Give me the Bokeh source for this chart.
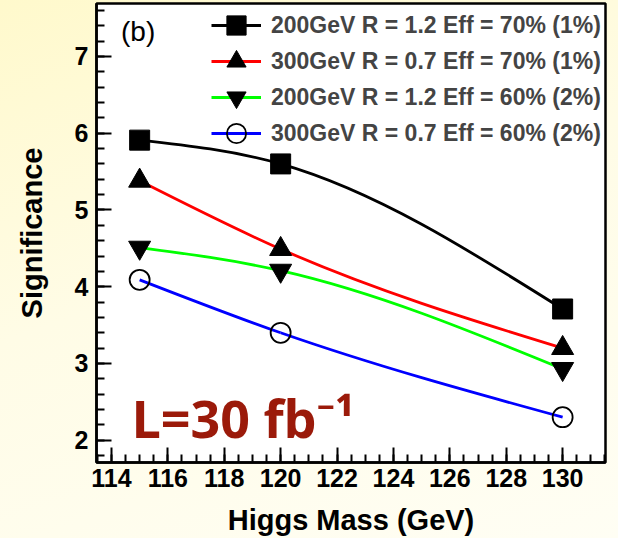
import numpy as np
from bokeh.plotting import figure
from bokeh.models import Range1d, SingleIntervalTicker, Legend, LegendItem, Label
from bokeh.embed import file_html
from bokeh.resources import INLINE

# ---- data ----
mass = [115, 120, 130]
sig_200_r12_70 = [5.91, 5.60, 3.71]
sig_300_r07_70 = [5.38, 4.49, 3.20]
sig_200_r12_60 = [4.51, 4.21, 2.93]
sig_300_r07_60 = [4.09, 3.40, 2.30]
labels = ["200GeV R = 1.2 Eff = 70% (1%)",
          "300GeV R = 0.7 Eff = 70% (1%)",
          "200GeV R = 1.2 Eff = 60% (2%)",
          "300GeV R = 0.7 Eff = 60% (2%)"]
colors = ["black", "#FF0000", "#00FF00", "#0000FF"]
markers = ["square", "triangle", "inverted_triangle", "circle"]


def spline_segments(xs, ys):
    """Natural cubic spline through the points, expressed as cubic Bezier segments."""
    x = np.asarray(xs, float)
    y = np.asarray(ys, float)
    n = len(x)
    h = np.diff(x)
    A = np.zeros((n, n))
    b = np.zeros(n)
    A[0, 0] = 1.0
    A[-1, -1] = 1.0
    for i in range(1, n - 1):
        A[i, i - 1] = h[i - 1]
        A[i, i] = 2 * (h[i - 1] + h[i])
        A[i, i + 1] = h[i]
        b[i] = 6 * ((y[i + 1] - y[i]) / h[i] - (y[i] - y[i - 1]) / h[i - 1])
    M = np.linalg.solve(A, b)
    d = np.diff(y) / h
    m0 = d - h * (2 * M[:-1] + M[1:]) / 6
    m1 = d + h * (M[:-1] + 2 * M[1:]) / 6
    return dict(x0=x[:-1], y0=y[:-1], x1=x[1:], y1=y[1:],
                cx0=x[:-1] + h / 3, cy0=y[:-1] + m0 * h / 3,
                cx1=x[1:] - h / 3, cy1=y[1:] - m1 * h / 3)


FONT = "Liberation Sans"
W, H = 618, 538
B_LEFT, B_RIGHT, B_TOP, B_BOTTOM = 96, 13, 3, 70
FRAME_H = H - B_TOP - B_BOTTOM

p = figure(width=W, height=H, output_backend="svg", toolbar_location=None,
           x_range=Range1d(113.47, 131.52), y_range=Range1d(1.71, 7.69),
           min_border_left=B_LEFT, min_border_right=B_RIGHT,
           min_border_top=B_TOP, min_border_bottom=B_BOTTOM)

p.border_fill_alpha = 0
p.styles = {"background": "linear-gradient(160deg, #FFF9CC 0%, #FFFCE6 45%, #FFFEF4 100%)"}
p.background_fill_color = "white"
p.outline_line_color = "black"
p.outline_line_width = 2.5
p.xgrid.visible = False
p.ygrid.visible = False

p.xaxis.ticker = SingleIntervalTicker(interval=2, num_minor_ticks=4)
p.yaxis.ticker = SingleIntervalTicker(interval=1, num_minor_ticks=5)
for ax in (p.xaxis[0], p.yaxis[0]):
    ax.axis_line_width = 2.5
    ax.major_tick_in = 15
    ax.major_tick_out = 0
    ax.minor_tick_in = 8
    ax.minor_tick_out = 0
    ax.major_tick_line_width = 2
    ax.minor_tick_line_width = 2
    ax.major_label_text_font = FONT
    ax.major_label_text_font_style = "bold"
    ax.major_label_text_font_size = "25px"
    ax.major_label_text_color = "black"
    ax.axis_label_text_font = FONT
    ax.axis_label_text_font_style = "bold"
    ax.axis_label_text_font_size = "29px"
    ax.axis_label_text_color = "black"

p.xaxis.axis_label = "Higgs Mass (GeV)"
p.yaxis.axis_label = "Significance"
p.xaxis.major_label_standoff = 6
p.xaxis.axis_label_standoff = 14
p.yaxis.major_label_standoff = 8
p.yaxis.axis_label_standoff = 24

items = []
for ys, col, mk, lab in zip([sig_200_r12_70, sig_300_r07_70, sig_200_r12_60, sig_300_r07_60],
                            colors, markers, labels):
    seg = spline_segments(mass, ys)
    r_line = p.bezier(x0="x0", y0="y0", x1="x1", y1="y1", cx0="cx0", cy0="cy0",
                      cx1="cx1", cy1="cy1", source=seg, line_color=col, line_width=2.8)
    if mk == "circle":
        r_pt = p.scatter(mass, ys, marker=mk, size=20, fill_alpha=0, line_color="black",
                         line_width=1.8)
    elif mk == "square":
        r_pt = p.scatter(mass, ys, marker=mk, size=20, fill_color="black", line_color="black")
    else:
        r_pt = p.scatter(mass, ys, marker=mk, size=22, fill_color="black", line_color="black")
    items.append(LegendItem(label=lab, renderers=[r_line, r_pt]))

# Legend split into two interleaved columns so the entry markers can be large
ROW_H = 48      # box of each entry (sets legend marker size)
PITCH = 36      # distance between consecutive entries
LEG_X = 115     # left edge of the legend, from the frame's left side
LEG_TOP = 4     # top of the first entry, from the frame's top
for k, sub in enumerate([items[0::2], items[1::2]]):
    n = len(sub)
    height = n * ROW_H + (n - 1) * (2 * PITCH - ROW_H)
    top = LEG_TOP + k * PITCH
    leg = Legend(items=sub, location=(LEG_X, FRAME_H - top - height))
    leg.label_text_font = FONT
    leg.label_text_font_style = "bold"
    leg.label_text_font_size = "23px"
    leg.glyph_width = 50
    leg.glyph_height = ROW_H
    leg.label_height = ROW_H
    leg.spacing = 2 * PITCH - ROW_H
    leg.label_standoff = 10
    leg.padding = 0
    leg.margin = 0
    leg.border_line_alpha = 0
    leg.background_fill_alpha = 0
    p.add_layout(leg)

p.add_layout(Label(x=114.34, y=7.32, text="(b)", text_font=FONT, text_font_size="28px",
                   text_baseline="middle", text_color="black"))
p.add_layout(Label(x=114.72, y=2.30, text="L=30 fb\u207b\u00b9", text_font="Noto Sans",
                   text_font_style="bold", text_font_size="52px", text_baseline="alphabetic",
                   text_color="#9B1A0A"))

open("out.html", "w").write(file_html(p, INLINE))
